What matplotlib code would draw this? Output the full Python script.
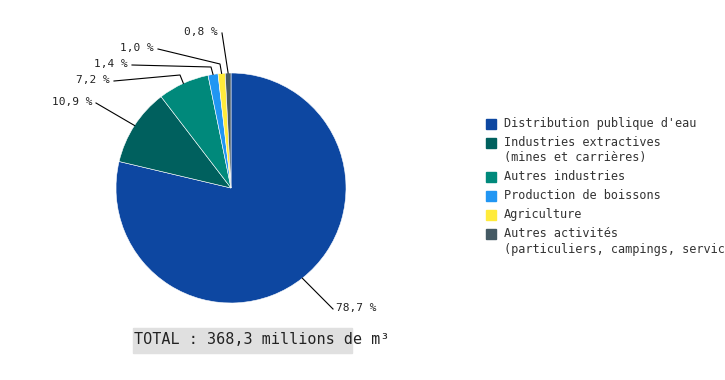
import matplotlib

matplotlib.use("Agg")
import matplotlib.pyplot as plt
import numpy as np
from matplotlib.patches import Rectangle

categories = [
    "Distribution publique d'eau",
    "Industries extractives\n(mines et carrières)",
    "Autres industries",
    "Production de boissons",
    "Agriculture",
    "Autres activités\n(particuliers, campings, services)",
]
shares = [78.7, 10.9, 7.2, 1.4, 1.0, 0.8]
colors = ["#0d47a1", "#00605e", "#00897b", "#2196f3", "#ffeb3b", "#455a64"]
total_label = "TOTAL : 368,3 millions de m³"

W, H = 725, 380
CX, CY, R = 231, 188, 115   # pie centre / radius in px

# label anchor (px) and optional elbow point (px) for each slice
label_pos = [(336, 308), (92, 102), (110, 80), (128, 64), (154, 48), (218, 32)]
elbows = [None, None, (180, 75), (211, 67), (220, 64), None]

mono = "DejaVu Sans Mono"

fig = plt.figure(figsize=(W / 100, H / 100), dpi=100)
ax = fig.add_axes([(CX - R) / W, (H - CY - R) / H, 2 * R / W, 2 * R / H])
wedges, _ = ax.pie(shares, colors=colors, startangle=90, counterclock=False,
                   radius=1.0, wedgeprops=dict(linewidth=0.4, edgecolor="white"))
ax.set_xlim(-1, 1)
ax.set_ylim(-1, 1)
ax.set_aspect("equal")
ax.axis("off")


def px(x, y):
    # px -> data coords of the pie axes
    return (x - CX) / R, -(y - CY) / R


for w, v, (lx, ly), elb in zip(wedges, shares, label_pos, elbows):
    mid = np.deg2rad((w.theta1 + w.theta2) / 2)
    xs = [np.cos(mid)]
    ys = [np.sin(mid)]
    if elb is not None:
        ex, ey = px(*elb)
        xs.append(ex)
        ys.append(ey)
    right = lx > CX
    tx, ty = px(lx - 3 if right else lx + 4, ly + 1)
    xs.append(tx)
    ys.append(ty)
    ax.plot(xs, ys, color="black", lw=0.8, clip_on=False)
    txt = f"{v:.1f}".replace(".", ",") + " %"
    ax.text(*px(lx, ly), txt, ha="left" if right else "right", va="center",
            fontsize=8, family=mono, color="#222222")

# legend, drawn by hand (the last entry runs off the right edge, as in the source)
y = 124
for cat, col in zip(categories, colors):
    fig.patches.append(Rectangle((486 / W, 1 - (y + 5) / H), 10 / W, 10 / H,
                                 transform=fig.transFigure, color=col))
    fig.text(504 / W, 1 - (y - 7) / H, cat, ha="left", va="top", fontsize=8.6,
             family=mono, color="#333333", linespacing=1.25)
    y += 19 + 15 * cat.count("\n")

# total box
fig.patches.append(Rectangle((133 / W, 1 - 353 / H), 219 / W, 25 / H,
                             transform=fig.transFigure, color="#e0e0e0"))
fig.text(134 / W, 1 - 340 / H, total_label, ha="left", va="center",
         fontsize=10.9, family=mono, color="#222222")

fig.savefig("out.png", dpi=100)
